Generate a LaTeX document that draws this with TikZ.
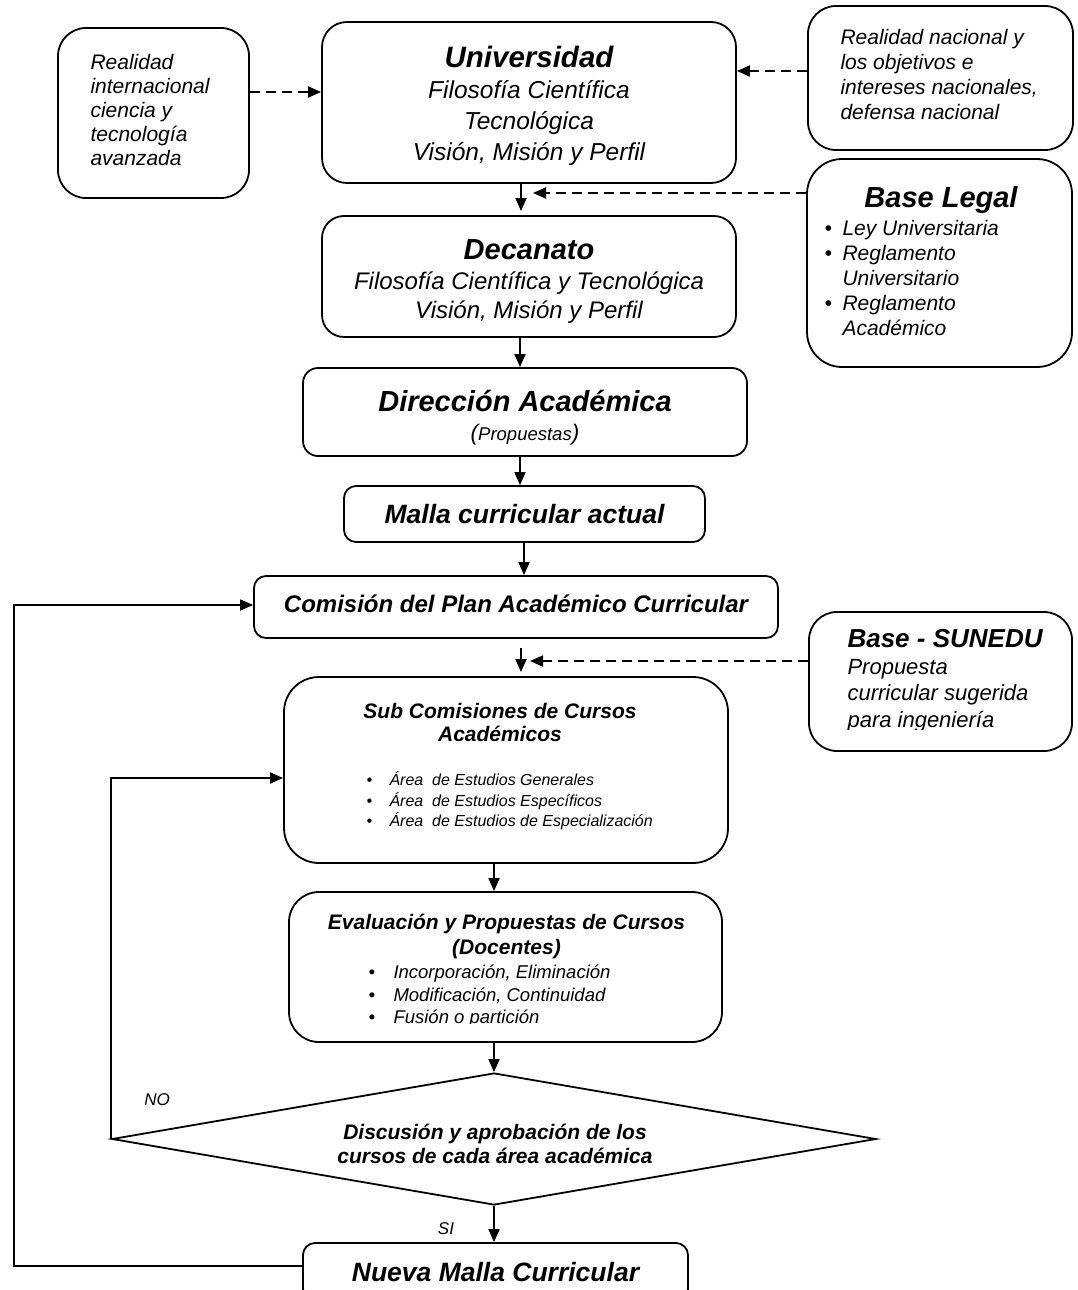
\documentclass[tikz,border=0pt]{standalone}
\usepackage{fontspec}
\setmainfont{Liberation Sans}
\usetikzlibrary{arrows.meta,shapes.geometric}
\newcommand\myfs[2]{\fontsize{#1}{#2}\selectfont}
\newcommand\mybul[1]{\makebox[#1][l]{•}}
\begin{document}
\begin{tikzpicture}[x=1pt,y=-1pt,
  rbox/.style={draw, line width=1.8pt, rounded corners=#1, inner sep=0pt, align=center},
  arr/.style={-{Triangle[length=13pt,width=11pt]}, line width=1.8pt},
  darr/.style={arr, dash pattern=on 10pt off 6pt},
  ttl/.style={font={\myfs{29}{32}\bfseries\itshape}},
  ]
\clip (0,0) rectangle (1077,1290);
\fill[white] (0,0) rectangle (1077,1290);

% left external box
\node[rbox=28pt, minimum width=191pt, minimum height=170pt] (ri) at (153.5,113) {};
\node[anchor=west, align=left, font={\myfs{21}{24}\itshape}] (ritxt) at (87,110)
  {Realidad\\internacional\\ciencia y\\tecnología\\avanzada};

% Universidad
\node[rbox=25pt, minimum width=414pt, minimum height=161pt] (uni) at (529,102.5) {};
\node[align=center, font={\myfs{24.5}{31}\itshape}] (unitxt) at (529,105.5)
  {{\myfs{29.5}{32}\bfseries\itshape Universidad}\\Filosofía Científica\\Tecnológica\\Visión, Misión y Perfil};

% right external box
\node[rbox=28pt, minimum width=265pt, minimum height=144pt] (rn) at (940.5,78) {};
\node[anchor=west, align=left, font={\myfs{21}{25}\itshape}] (rntxt) at (837,74.5)
  {Realidad nacional y\\los objetivos e\\intereses nacionales,\\defensa nacional};

% Base Legal
\node[rbox=35pt, minimum width=265pt, minimum height=208pt] (bl) at (939.5,263) {};
\node[ttl] (bltit) at (941,200) {Base Legal};
\node[anchor=west, align=left, font={\myfs{21}{25}\itshape}] (bltxt) at (821,278)
  {\mybul{18pt}Ley Universitaria\\\mybul{18pt}Reglamento\\\hspace*{18pt}Universitario\\\mybul{18pt}Reglamento\\\hspace*{18pt}Académico};

% Decanato
\node[rbox=22pt, minimum width=414pt, minimum height=121pt] (dec) at (529,276.5) {};
\node[align=center, font={\myfs{24}{29.5}\itshape}] (dectxt) at (529,282)
  {{\myfs{29}{32}\bfseries\itshape Decanato}\\Filosofía Científica y Tecnológica\\Visión, Misión y Perfil};

% Direccion
\node[rbox=15pt, minimum width=444pt, minimum height=88pt] (dir) at (525,412) {};
\node[align=center, font={\myfs{18.5}{29}\itshape}] (dirtxt) at (525,418)
  {{\myfs{29}{32}\bfseries\itshape Dirección Académica}\\{\myfs{22.5}{26}(}{\myfs{18.5}{20}Propuestas}{\myfs{22.5}{26})}};

% Malla actual
\node[rbox=12pt, minimum width=361pt, minimum height=56pt, font={\myfs{26.5}{30}\bfseries\itshape}] (malla) at (524.5,514)
  {Malla curricular actual};

% Comision
\node[rbox=12pt, minimum width=524pt, minimum height=62pt] (com) at (516,607) {};
\node[font={\myfs{24}{28}\bfseries\itshape}] (comtxt) at (516,604)
  {Comisión del Plan Académico Curricular};

% Base SUNEDU
\node[rbox=28pt, minimum width=263pt, minimum height=139pt] (sun) at (940.5,681.5) {};
\node[anchor=west, font={\myfs{26}{30}\bfseries\itshape}] (suntit) at (844,639) {Base - SUNEDU};
\begin{scope}
\clip (800,600) rectangle (1077,729);
\node[anchor=west, align=left, font={\myfs{22}{26.5}\itshape}] (suntxt) at (844,695.5)
  {Propuesta\\curricular sugerida\\para ingeniería};
\end{scope}

% Sub comisiones
\node[rbox=35pt, minimum width=444pt, minimum height=186pt] (sub) at (506,770) {};
\node[align=center, font={\myfs{21}{23}\bfseries\itshape}] (subtit) at (500,722)
  {Sub Comisiones de Cursos\\Académicos};
\node[anchor=west, align=left, font={\myfs{16}{20.5}\itshape}] (subtxt) at (363,801)
  {\mybul{23pt}Área\ \ de Estudios Generales\\\mybul{23pt}Área\ \ de Estudios Específicos\\\mybul{23pt}Área\ \ de Estudios de Especialización};

% Evaluacion
\node[rbox=30pt, minimum width=433pt, minimum height=150pt] (eva) at (505.5,967) {};
\node[align=center, font={\myfs{21}{25}\bfseries\itshape}] (evatit) at (506.5,936)
  {Evaluación y Propuestas de Cursos\\(Docentes)};
\begin{scope}
\clip (300,900) rectangle (720,1023.5);
\node[anchor=west, align=left, font={\myfs{18.5}{22.5}\itshape}] (evatxt) at (365,996.5)
  {\mybul{25pt}Incorporación, Eliminación\\\mybul{25pt}Modificación, Continuidad\\\mybul{25pt}Fusión o partición};
\end{scope}

% Diamond
\node[draw, line width=1.8pt, shape=diamond, aspect=5.79, minimum width=764pt, minimum height=132pt,
  inner sep=0pt] (dia) at (494,1139) {};
\node[align=center, font={\myfs{21}{24.5}\bfseries\itshape}] (diatxt) at (495,1144)
  {Discusión y aprobación de los\\cursos de cada área académica};

% Nueva malla
\node[rbox=12pt, minimum width=385pt, minimum height=58pt, font={\myfs{26.5}{30}\bfseries\itshape}] (nue) at (495.5,1272)
  {Nueva Malla Curricular};

\node[font={\myfs{17}{20}\itshape}] (nolab) at (157,1100) {NO};
\node[font={\myfs{17}{20}\itshape}] (silab) at (446,1229) {SI};

% connectors
\draw[darr] (ri.east |- 0,92) -- (uni.west |- 0,92);
\draw[darr] (rn.west |- 0,71) -- (uni.east |- 0,71);
\draw[arr, shorten >=4pt] (521,0 |- uni.south) -- (521,0 |- dec.north);
\coordinate (j1) at (533,193);
\draw[darr] (bl.west |- j1) -- (j1);
\draw[arr] (520,0 |- dec.south) -- (520,0 |- dir.north);
\draw[arr] (520,0 |- dir.south) -- (520,0 |- malla.north);
\draw[arr] (524,0 |- malla.south) -- (524,0 |- com.north);
\draw[arr, shorten <=9pt, shorten >=4pt] (521,0 |- com.south) -- (521,0 |- sub.north);
\coordinate (j2) at (530,661);
\draw[darr] (sun.west |- j2) -- (j2);
\draw[arr] (494,0 |- sub.south) -- (494,0 |- eva.north);
\draw[arr] (494,0 |- eva.south) -- (dia.north);
\draw[arr] (dia.south) -- (494,0 |- nue.north);
\coordinate (lc) at (14,605);
\draw[arr] (nue.west |- 0,1266) -| (lc) -- (com.west |- lc);
\draw[arr] (dia.west) |- (sub.west |- 0,778);
\end{tikzpicture}
\end{document}
